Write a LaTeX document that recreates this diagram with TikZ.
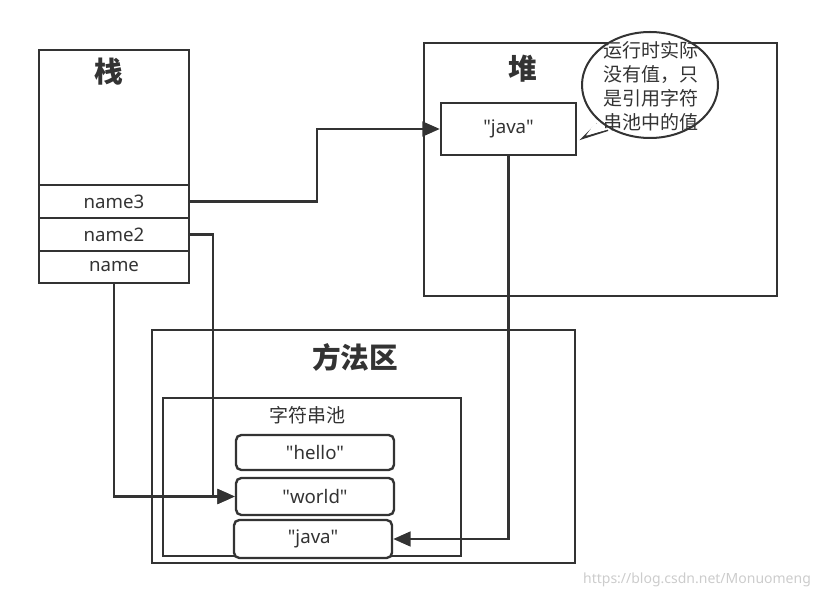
\documentclass[tikz,border=0pt]{standalone}
\usepackage{fontspec}
\setmainfont{Noto Sans}
\newfontfamily\latin{Noto Sans}
\newfontfamily\cjk{Noto Sans CJK SC}
\usepackage{tikz}
\usetikzlibrary{arrows.meta}
\usetikzlibrary{shapes}
\definecolor{ink}{HTML}{333333}

\begin{document}
\begin{tikzpicture}[x=0.75pt,y=-0.75pt,
    box/.style={draw=ink,line width=1.8pt,inner sep=0pt,text=ink},
    cell/.style={box,minimum width=112.5pt,font=\latin\fontsize{14}{16}\selectfont},
    strbox/.style={box,rounded corners=4pt,minimum width=118.5pt,font=\latin\fontsize{14}{16}\selectfont},
    title/.style={text=ink,font=\cjk\fontsize{21.5}{24}\selectfont\bfseries},
    link/.style={draw=ink,line width=1.8pt,-{Triangle[length=13pt,width=11pt]}}]
    \useasboundingbox (0,0) rectangle (821,598);
    % Stack
    \node[box,minimum width=112.5pt,minimum height=174.75pt] (stack) at (114,166.5) {};
    \node[title] (stacklbl) at (109,72) {栈};
    \node[cell,minimum height=24.75pt] (name3) at (114,201.5) {name3};
    \node[cell,minimum height=24.75pt] (name2) at (114,234.5) {name2};
    \node[cell,minimum height=24pt] (name) at (114,267) {name};
    % Heap
    \node[box,minimum width=264.75pt,minimum height=189.75pt] (heap) at (600.5,169.5) {};
    \node[title] (heaplbl) at (523,69) {堆};
    \node[box,minimum width=101.25pt,minimum height=39pt,font=\latin\fontsize{14}{16}\selectfont] (hjava) at (508.5,129) {"java"};
    % Callout
    \draw[ink,line width=1.5pt,fill=white] (597,124) -- (583,138) -- (608,130);
    \draw[ink,line width=1.5pt,fill=white] (650,85) ellipse (68 and 53);
    \fill[white] (595,123) -- (586,135.5) -- (610,129) -- cycle;
    \node[text=ink,align=left,font=\cjk\fontsize{14.25}{18}\selectfont,inner sep=0pt] (note) at (651,86.5)
        {运行时实际\\没有值，只\\是引用字符\\串池中的值};
    % Method area
    \node[box,minimum width=317.25pt,minimum height=174.75pt] (method) at (363.5,446.5) {};
    \node[title] (methodlbl) at (355,357) {方法区};
    \node[box,minimum width=223.5pt,minimum height=118.5pt] (pool) at (312,477) {};
    \node[text=ink,font=\cjk\fontsize{14.25}{16}\selectfont] (poollbl) at (307,415) {字符串池};
    \node[strbox,minimum height=26.25pt] (hello) at (315,452.5) {"hello"};
    \node[strbox,minimum height=27.75pt] (world) at (315,496.5) {"world"};
    \node[strbox,minimum height=28.5pt,fill=white] (pjava) at (313,539) {"java"};
    % Links
    \draw[link] (name3.east) -- ++(127,0) |- (hjava.west);
    \draw[link] (name2.east) -- ++(23,0) |- (world.west);
    \draw[link] (name.south) |- (world.west);
    \draw[link] (hjava.south) |- (pjava.east);
    % Watermark
    \node[text=gray!40,font=\latin\fontsize{10.5}{12}\selectfont] (mark) at (697,580) {https://blog.csdn.net/Monuomeng};
\end{tikzpicture}
\end{document}
